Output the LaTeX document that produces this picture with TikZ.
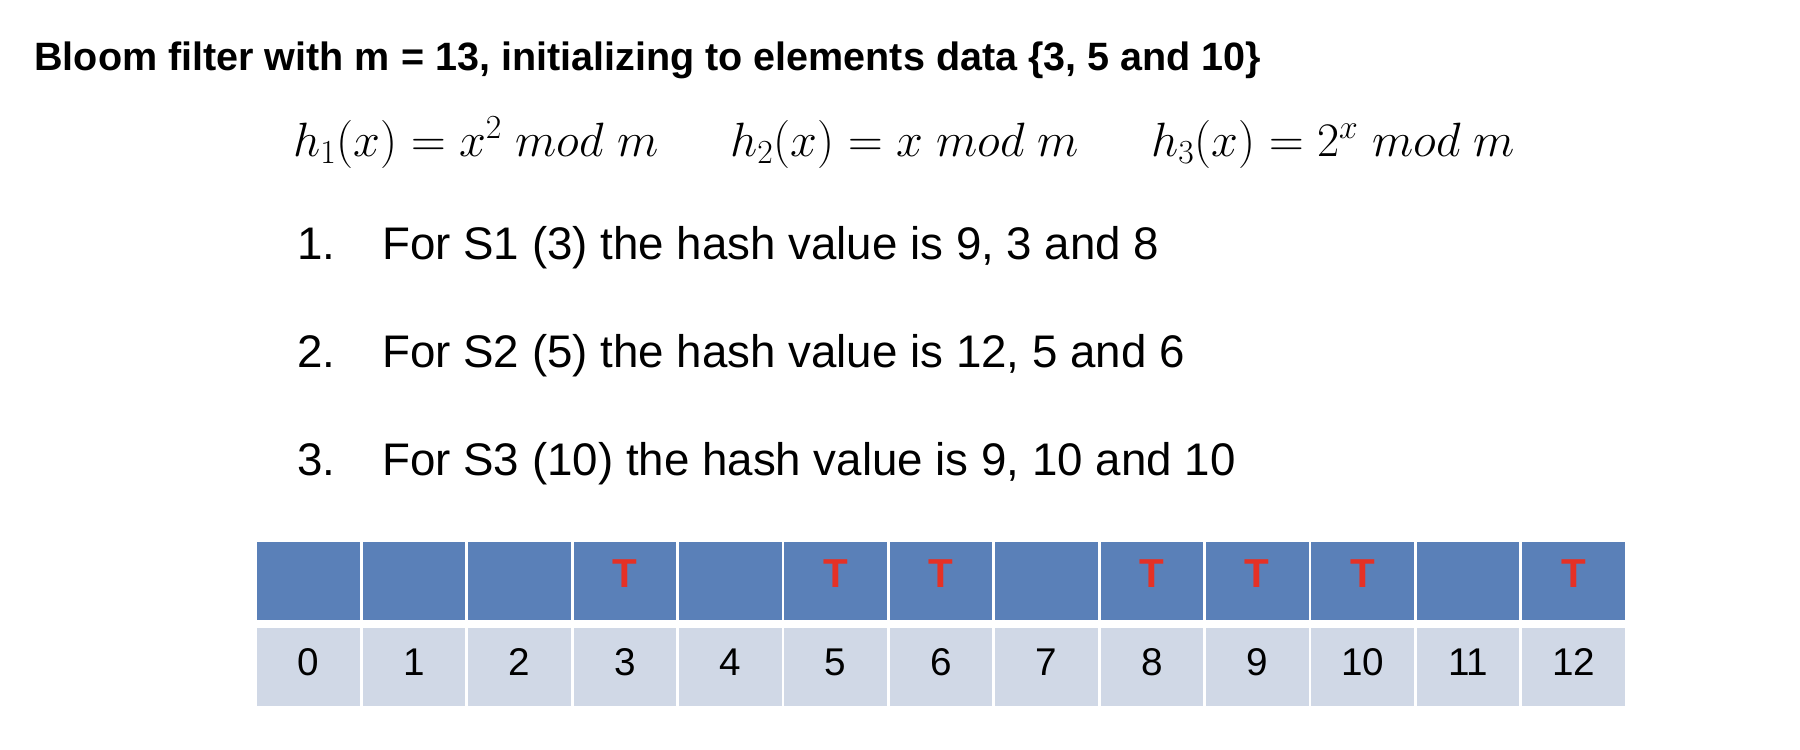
\RequirePackage{fix-cm}
\documentclass[tikz,border=0pt]{standalone}
\usepackage{fontspec}
\setmainfont{Liberation Sans}
\definecolor{bitblue}{HTML}{5A80B8}
\definecolor{idxgray}{HTML}{D0D8E6}
\definecolor{tred}{HTML}{E53125}
\tikzset{
  bitcell/.style={fill=bitblue,draw=none,minimum width=102.6*0.02cm,minimum height=78*0.02cm,inner sep=0pt},
  idxcell/.style={fill=idxgray,draw=none,minimum width=102.6*0.02cm,minimum height=78*0.02cm,inner sep=0pt},
  listtext/.style={anchor=base west,inner sep=0pt,font=\fontsize{26}{30}\selectfont},
  hashfn/.style={anchor=base west,inner sep=0pt,font=\fontsize{27.4}{31}\selectfont}
}
\begin{document}
\begin{tikzpicture}[x=0.02cm,y=-0.02cm]
        \useasboundingbox (0,0) rectangle (1800,750);
        \node[anchor=base west,inner sep=0pt,font=\fontsize{22.5}{26}\selectfont\bfseries] (title) at (34,71)
            {Bloom filter with m = 13, initializing to elements data \{3, 5 and 10\}};
        \node[hashfn] (h1) at (293,156) {$h_1(x) = x^2\ mod\ m$};
        \node[hashfn] (h2) at (730,156) {$h_2(x) = x\ mod\ m$};
        \node[hashfn] (h3) at (1151,156) {$h_3(x) = 2^x\ mod\ m$};
        \foreach \k/\s/\e [count=\r from 0] in {1/3/{9, 3 and 8}, 2/5/{12, 5 and 6}, 3/10/{9, 10 and 10}} {
                \node[listtext] (num\k) at (297,259.5+108*\r) {\k.};
                \node[listtext] (item\k) at (382,259.5+108*\r) {For S\k\ (\s) the hash value is \e};
            }
        \foreach \i in {0,...,12} {
                \node[bitcell] (b\i) at (256+105.4*\i+52.7,581) {};
                \node[idxcell] (n\i) at (256+105.4*\i+52.7,667) {};
                \node[inner sep=0pt,font=\fontsize{22}{26}\selectfont] (d\i) at ([yshift=0.1cm]n\i.center) {\i};
            }
        \foreach \i in {3,5,6,8,9,10,12} {
                \node[inner sep=0pt,text=tred,font=\fontsize{23}{26}\selectfont\bfseries] (t\i) at ([yshift=0.14cm]b\i.center) {T};
            }
    \end{tikzpicture}
\end{document}
